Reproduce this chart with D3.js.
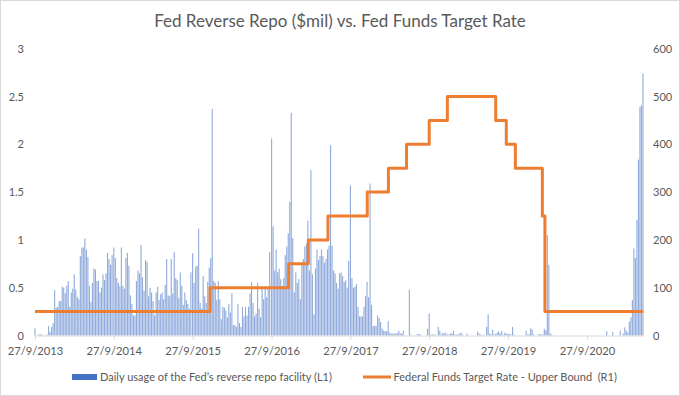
<!DOCTYPE html>
<html>
<head>
<meta charset="utf-8">
<script src="https://cdn.jsdelivr.net/npm/d3@7"></script>
<style>
    body { margin:0; background:#fff; }
    text { font-family: Lato, 'Open Sans', sans-serif; fill:#595959; }
</style>
</head>
<body>
<svg id="chart" width="680" height="396"></svg>
<script>
var TITLE = 'Fed Reverse Repo ($mil) vs. Fed Funds Target Rate';

var xTickDates  = ['2013-09-27','2014-09-27','2015-09-27','2016-09-27','2017-09-27','2018-09-27','2019-09-27','2020-09-27'];
var xTickLabels = ['27/9/2013','27/9/2014','27/9/2015','27/9/2016','27/9/2017','27/9/2018','27/9/2019','27/9/2020'];
var leftTicks   = [0, 0.5, 1, 1.5, 2, 2.5, 3];
var rightTicks  = [0, 100, 200, 300, 400, 500, 600];

// weekly readings of the reverse repo bars (L1), one array per year starting 27/9
var repoYearStarts = ['2013-09-27','2014-09-27','2015-09-27','2016-09-27','2017-09-27','2018-09-27','2019-09-27','2020-09-27'];
var repo2013 = [0.075,0,0.01,0.01,0.015,0.005,0,0,0.01,0.1,0.04,0.09,0.13,0.475,0.29,0.3,0.36,0.36,0.51,0.5,0.44,0.52,0.57,0.3,0.45,0.49,
                0.64,0.48,0.405,0.38,0.83,0.92,0.92,1.015,0.9,0.82,0.52,0.35,0.55,0.7,0.69,0.57,0.57,0.45,0.5,0.64,0.58,0.65,0.865,0.8,0.74,0.84];
var repo2014 = [0.92,0.81,0.6,0.55,0.52,0.92,0.52,0.49,0.81,0.865,0.73,0.42,0.33,0.21,0.21,0.57,0.68,0.65,0.95,0.61,0.47,0.79,0.77,0.41,0.5,0.45,
                0.36,0.21,0.45,0.51,0.37,0.43,0.45,0.38,0.53,0.8,0.42,0.41,0.8,0.44,0.875,0.6,0.58,0.39,0.66,0.52,0.32,0.45,0.37,0.33,0.28,0.66];
var repo2015 = [0.86,0.55,0.72,0.73,1.12,0.34,0.28,0.62,0.41,0.34,0.56,0.71,0.81,2.37,0.57,0.55,0.37,0.57,0.38,0.17,0.3,0.29,0.26,0.19,0.33,0.24,
                0.44,0.11,0.11,0.09,0.33,0.13,0.09,0.3,0.2,0.3,0.21,0.3,0.44,0.56,0.34,0.2,0.23,0.55,0.28,0.19,0.5,0.38,0.49,0.4,0.49,0.875];
var repo2016 = [2.06,1.14,0.68,0.9,0.66,0.7,0.59,0.52,0.6,0.84,0.93,1.07,1.4,2.33,1.02,0.45,0.66,0.55,0.59,0.38,0.75,0.8,0.93,0.96,1.2,0.68,
                1.73,0.64,0.22,0.7,0.9,0.79,0.83,0.9,0.83,0.76,0.8,0.9,0.94,1.99,0.94,0.68,0.65,0.55,0.49,0.65,0.66,0.62,0.56,0.58,0.5,0.78];
var repo2017 = [1.57,0.6,0.5,0.51,0.54,0.3,0.2,0.2,0.2,0.3,0.41,0.56,0.4,1.59,0.32,0.1,0.1,0.1,0.21,0.18,0.14,0.07,0.05,0.045,0.045,0.15,
                0.03,0.02,0.02,0.02,0.02,0.025,0.05,0.02,0.02,0.05,0,0,0,0.48,0.01,0,0,0,0.01,0.015,0.015,0,0,0,0,0.07];
var repo2018 = [0.23,0.01,0.01,0.01,0.01,0,0.09,0.05,0.01,0.03,0.02,0.03,0.01,0.01,0.02,0.02,0.05,0.01,0.01,0.01,0.02,0.03,0.01,0,0,0.02,
                0,0,0,0,0,0,0.04,0.02,0.01,0,0.01,0,0.09,0.22,0.02,0.01,0.06,0.01,0.015,0.03,0.045,0.02,0.05,0.005,0.03,0.02];
var repo2019 = [0.02,0.015,0.01,0.09,0.01,0,0,0,0,0,0,0,0.05,0.01,0.015,0.075,0.06,0.01,0,0,0.01,0.015,0.01,0.01,0.07,0.055,
                1.05,0.74,0.02,0.01,0,0,0,0,0,0,0,0,0,0,0,0,0,0,0,0,0,0,0,0,0,0];
var repo2020 = [0,0,0,0,0,0,0,0,0,0,0,0,0,0.045,0,0,0,0.035,0,0,0,0,0.05,0,0.02,0.085,0.05,0.03,0.145,0.19,0.37,0.91,0.81,1.21,
                1.84,2.39,2.41,2.74];

// fed funds target rate, upper bound (R1), step changes
var rateDates  = ['2013-09-27','2015-12-17','2016-12-15','2017-03-16','2017-06-15','2017-12-14','2018-03-22','2018-06-14',
                  '2018-09-27','2018-12-20','2019-08-01','2019-09-19','2019-10-31','2020-03-04','2020-03-16','2021-06-14'];
var rateValues = [50,100,150,200,250,300,350,400,450,500,450,400,350,250,50,50];

var legendLabels = ['Daily usage of the Fed\u2019s reverse repo facility (L1)','Federal Funds Target Rate - Upper Bound  (R1)'];

(function(window) {
    'use strict';

    var W = 680, H = 396,
        M = { left:35, right:643.6, top:48.7, bottom:335.5 },
        parse = d3.timeParse('%Y-%m-%d');

    var svg = d3.select('#chart');

    var repoSets = [repo2013, repo2014, repo2015, repo2016, repo2017, repo2018, repo2019, repo2020],
        bars = [];

    repoSets.forEach(function(vals, k) {
        var start = parse(repoYearStarts[k]);
        vals.forEach(function(v, i) {
            bars.push({ date: d3.timeDay.offset(start, 7*i), value: v });
        });
    });

    var rate = rateDates.map(function(d, i) {
        return { date: parse(d), value: rateValues[i] };
    });

    var x = d3.scaleTime()
        .domain([parse('2013-09-27'), parse('2021-06-16')])
        .range([M.left, M.right]);

    var yL = d3.scaleLinear().domain([0, 3]).range([M.bottom, M.top]),
        yR = d3.scaleLinear().domain([0, 600]).range([M.bottom, M.top]);

    /******************************************************************
        frame + title
     ******************************************************************/
    svg.append('rect')
        .attr('x', 0.5).attr('y', 0.5)
        .attr('width', W -1).attr('height', H -1)
        .attr('fill', '#fff')
        .attr('stroke', '#d9d9d9');

    svg.append('text')
        .attr('x', 340)
        .attr('y', 27)
        .attr('text-anchor', 'middle')
        .style('font-size', '17px')
        .text(TITLE);

    /******************************************************************
        axes
     ******************************************************************/
    var xAxis = d3.axisBottom(x)
        .tickValues(xTickDates.map(parse))
        .tickFormat(function(d, i) { return xTickLabels[i]; })
        .tickSizeInner(4)
        .tickSizeOuter(0)
        .tickPadding(8);

    var gx = svg.append('g')
        .attr('class', 'x-axis')
        .attr('transform', 'translate(0,' + M.bottom + ')')
        .call(xAxis);

    gx.selectAll('path, line').attr('stroke', '#d9d9d9');
    gx.selectAll('text')
        .attr('fill', '#595959')
        .style('font-size', '11.2px')
        .style('font-family', 'Lato, sans-serif');

    var gl = svg.append('g')
        .attr('transform', 'translate(' + M.left + ',0)')
        .call(d3.axisLeft(yL).tickValues(leftTicks).tickFormat(d3.format('~g'))
                .tickSize(0).tickPadding(11));

    var gr = svg.append('g')
        .attr('transform', 'translate(' + M.right + ',0)')
        .call(d3.axisRight(yR).tickValues(rightTicks).tickSize(0).tickPadding(9.5));

    [gl, gr].forEach(function(g) {
        g.select('.domain').remove();
        g.selectAll('text')
            .attr('fill', '#595959')
            .style('font-size', '11px')
            .style('font-family', 'Lato, sans-serif');
    });

    /******************************************************************
        bars (L1) + rate line (R1)
     ******************************************************************/
    svg.append('g')
        .attr('class', 'bars')
        .selectAll('rect')
        .data(bars.filter(function(d) { return d.value > 0; })).enter()
            .append('rect')
                .attr('x', function(d) { return x(d.date) - 0.55; })
                .attr('y', function(d) { return yL(d.value); })
                .attr('width', 1.1)
                .attr('height', function(d) { return M.bottom - yL(d.value); })
                .attr('fill', '#4472c4')
                .attr('fill-opacity', 0.6);

    gx.raise();

    var line = d3.line()
        .x(function(d) { return x(d.date); })
        .y(function(d) { return yR(d.value); })
        .curve(d3.curveStepAfter);

    svg.append('path')
        .datum(rate)
        .attr('d', line)
        .attr('fill', 'none')
        .attr('stroke', '#ed7d31')
        .attr('stroke-width', 3)
        .attr('stroke-linejoin', 'round');

    /******************************************************************
        legend
     ******************************************************************/
    var lg = svg.append('g').attr('class', 'legend');

    lg.append('rect')
        .attr('x', 72).attr('y', 374)
        .attr('width', 25).attr('height', 6)
        .attr('fill', '#4472c4');

    lg.append('line')
        .attr('x1', 363).attr('x2', 391)
        .attr('y1', 377).attr('y2', 377)
        .attr('stroke', '#ed7d31')
        .attr('stroke-width', 3);

    lg.selectAll('text')
        .data(legendLabels).enter()
            .append('text')
                .attr('x', function(d, i) { return i ? 393.5 : 100; })
                .attr('y', 381)
                .style('font-size', '11px')
                .style('white-space', 'pre')
                .text(function(d) { return d; });

})(window);
</script>
</body>
</html>
